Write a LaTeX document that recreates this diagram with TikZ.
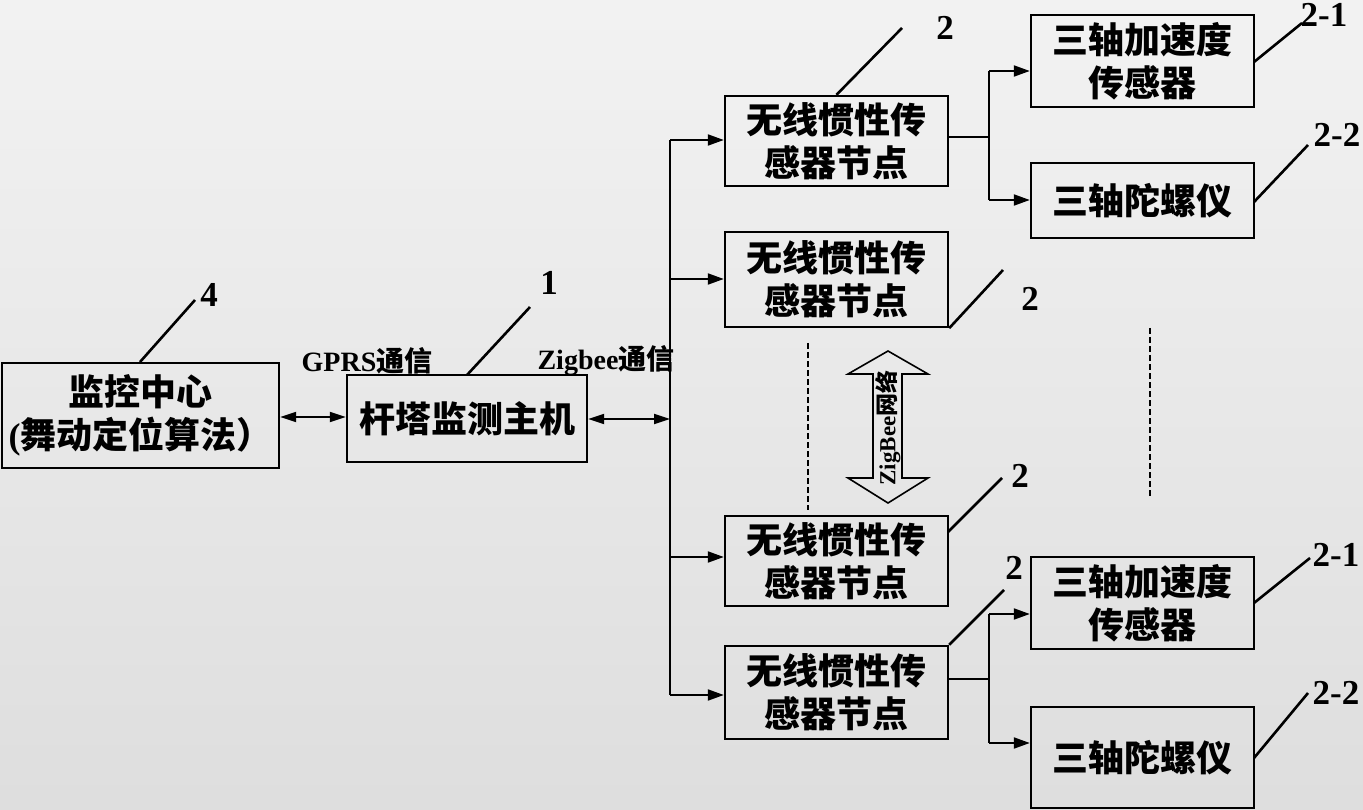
\documentclass[tikz,border=0pt]{standalone}
\usepackage{fontspec}
\setmainfont{Liberation Serif}
\newfontfamily\cjk{Noto Sans CJK SC}
\usetikzlibrary{arrows.meta}
\begin{document}
\begin{tikzpicture}[x=1pt,y=-1pt,
  box/.style={draw, line width=2.4pt, inner sep=0pt, align=center,
    font=\cjk\bfseries\fontsize{36}{43}\selectfont},
  conn/.style={line width=2pt},
  arr/.style={conn, -{Triangle[length=16pt,width=11pt]}},
  darr/.style={conn, {Triangle[length=16pt,width=10pt]}-{Triangle[length=16pt,width=10pt]}},
  leader/.style={line width=2.6pt},
  num/.style={font=\bfseries\fontsize{35}{35}\selectfont, inner sep=0pt},
  commlabel/.style={font=\bfseries\fontsize{28}{28}\selectfont, inner sep=0pt},
  dashline/.style={line width=1.5pt, dash pattern=on 6pt off 3pt},
  bigarrow/.style={line width=1.6pt}
]
\fill[top color=black!5, bottom color=black!13] (0,0) rectangle (1363,810);
\useasboundingbox (0,0) rectangle (1363,810);

% boxes
\node[box, minimum width=277pt, minimum height=105pt] (mon) at (140.5,415.5)
  {监控中心\\{\rmfamily(}舞动定位算法）};
\node[box, minimum width=240pt, minimum height=87pt] (host) at (467,418.5) {杆塔监测主机};
\node[box, minimum width=223pt, minimum height=90pt] (n1) at (836.5,141) {无线惯性传\\感器节点};
\node[box, minimum width=223pt, minimum height=95pt] (n2) at (836.5,279.5) {无线惯性传\\感器节点};
\node[box, minimum width=223pt, minimum height=90pt] (n3) at (836.5,561) {无线惯性传\\感器节点};
\node[box, minimum width=223pt, minimum height=93pt] (n4) at (836.5,692.5) {无线惯性传\\感器节点};
\node[box, minimum width=223pt, minimum height=92pt] (s1) at (1142.5,61) {三轴加速度\\传感器};
\node[box, minimum width=223pt, minimum height=75pt] (s2) at (1142.5,200.5) {三轴陀螺仪};
\node[box, minimum width=223pt, minimum height=92pt] (s3) at (1142.5,603) {三轴加速度\\传感器};
\node[box, minimum width=223pt, minimum height=101pt] (s4) at (1142.5,757.5) {三轴陀螺仪};

% GPRS / Zigbee links
\draw[darr] (mon.east |- 0,417) -- (host.west |- 0,417);
\coordinate (busmid) at (670,419);
\coordinate (bustop) at (670,140);
\coordinate (bus2) at (670,279);
\coordinate (bus3) at (670,557);
\coordinate (busbot) at (670,695);
\draw[darr] (host.east |- busmid) -- (busmid);
\draw[conn] (bustop) -- (busbot);
\draw[arr] (bustop) -- (bustop -| n1.west);
\draw[arr] (bus2) -- (bus2 -| n2.west);
\draw[arr] (bus3) -- (bus3 -| n3.west);
\draw[arr] (busbot) -- (busbot -| n4.west);

\node[commlabel] (gprs) at (367,361) {GPRS{\cjk 通信}};
\node[commlabel] (zig) at (606,361) {Zigbee{\cjk 通信}};

% branches to sensors
\coordinate (j1m) at (989,137);
\coordinate (j1a) at (989,71);
\coordinate (j1b) at (989,200);
\draw[conn] (n1.east |- j1m) -- (j1m);
\draw[conn] (j1a) -- (j1b);
\draw[arr] (j1a) -- (j1a -| s1.west);
\draw[arr] (j1b) -- (j1b -| s2.west);
\coordinate (j2m) at (989,679);
\coordinate (j2a) at (989,614);
\coordinate (j2b) at (989,743);
\draw[conn] (n4.east |- j2m) -- (j2m);
\draw[conn] (j2a) -- (j2b);
\draw[arr] (j2a) -- (j2a -| s3.west);
\draw[arr] (j2b) -- (j2b -| s4.west);

% leaders and numbers
\coordinate (l4) at (195,300);
\draw[leader] (140,362) -- (l4);
\node[num] (t4) at (209,295) {4};
\coordinate (l1) at (530,307);
\draw[leader] (467,375) -- (l1);
\node[num] (t1) at (549,283) {1};
\coordinate (ln1) at (902,28);
\draw[leader] (n1.north) -- (ln1);
\node[num] (tn1) at (945,28) {2};
\coordinate (ln2) at (1003,270);
\draw[leader] (n2.south east) -- (ln2);
\node[num] (tn2) at (1030,299) {2};
\coordinate (ln3) at (1002,478);
\draw[leader] (948,532) -- (ln3);
\node[num] (tn3) at (1020,476) {2};
\coordinate (ln4) at (1004,590);
\draw[leader] (n4.north east) -- (ln4);
\node[num] (tn4) at (1014,568) {2};
\coordinate (ls1) at (1302,23);
\draw[leader] (1254,62) -- (ls1);
\node[num] (ts1) at (1324,15) {2-1};
\coordinate (ls2) at (1308,145);
\draw[leader] (1254,202) -- (ls2);
\node[num] (ts2) at (1337,135) {2-2};
\coordinate (ls3) at (1310,558);
\draw[leader] (1254,603) -- (ls3);
\node[num] (ts3) at (1336,555) {2-1};
\coordinate (ls4) at (1308,693);
\draw[leader] (1254,758) -- (ls4);
\node[num] (ts4) at (1336,693) {2-2};

% dashed ellipsis lines
\draw[dashline] (808,343) -- (808,510);
\draw[dashline] (1150,328) -- (1150,497);

% ZigBee network double arrow
\draw[bigarrow] (888,351) -- (928,374) -- (902,374) -- (902,478) -- (928,478)
  -- (888,503) -- (848,478) -- (873,478) -- (873,374) -- (848,374) -- cycle;
\node[rotate=90, inner sep=0pt, font=\bfseries\fontsize{23}{23}\selectfont] (zb) at (888,428)
  {ZigBee{\cjk 网络}};
\end{tikzpicture}
\end{document}
